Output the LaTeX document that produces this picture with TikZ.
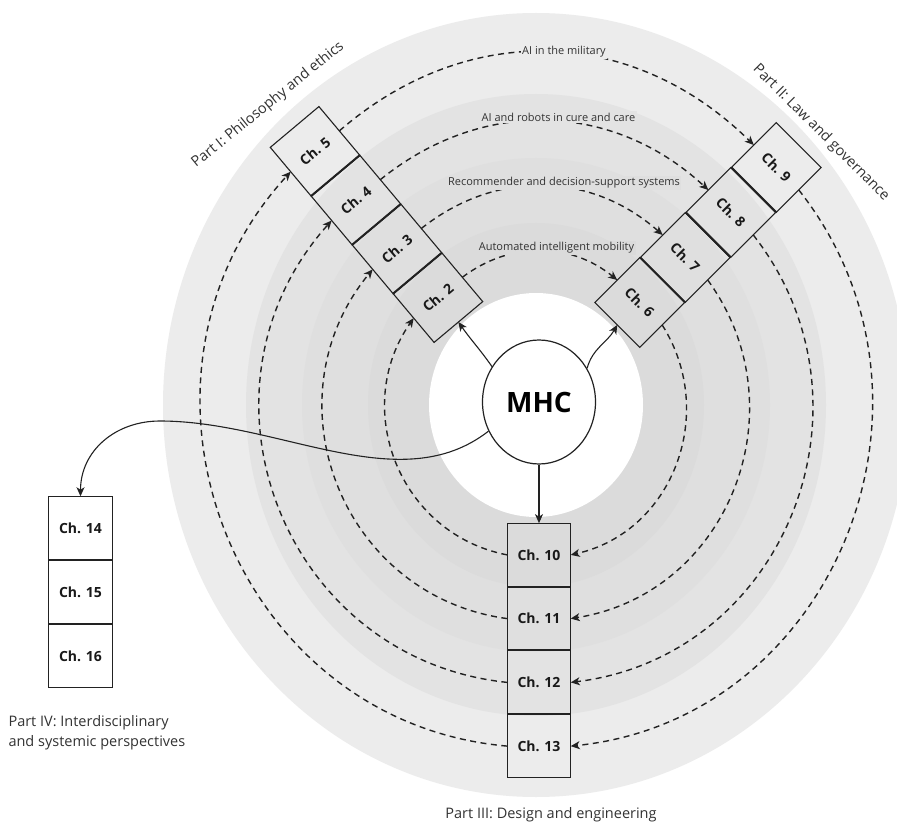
\documentclass[tikz,border=0pt]{standalone}
\usepackage{fontspec}
\setmainfont{Open Sans}
\usetikzlibrary{arrows.meta,shapes.geometric,calc}
\definecolor{bandA}{RGB}{236,236,236}
\definecolor{bandB}{RGB}{227,227,227}
\definecolor{bandC}{RGB}{223,223,223}
\definecolor{bandD}{RGB}{219,219,219}
\definecolor{ink}{RGB}{34,34,34}
\definecolor{txt}{RGB}{51,51,51}
\begin{document}
\begin{tikzpicture}[x=1pt,y=-1pt,
  chbox/.style={draw=ink, line width=1.1pt, minimum width=63.5pt, minimum height=63.5pt,
    inner sep=0pt, outer sep=0pt, font=\fontsize{14}{16}\selectfont\bfseries, text=black!90},
  divider/.style={draw=ink, line width=2pt},
  cycarrow/.style={draw=ink, line width=1.4pt, dash pattern=on 6pt off 4.5pt,
    -{Stealth[length=9pt,width=8pt,inset=2.5pt]}},
  cyclabel/.style={inner sep=1.5pt, font=\fontsize{11}{13}\selectfont, text=txt},
  partlab/.style={font=\fontsize{14.5}{20}\selectfont, text=txt},
  mharrow/.style={draw=ink, line width=1.1pt, -{Stealth[length=9pt,width=8pt,inset=2.5pt]}}]
\useasboundingbox (0,0) rectangle (897,826);
\clip (0,0) rectangle (897,826);
\fill[white] (0,0) rectangle (897,826);
% rings
\coordinate (ctr) at (536,405);
\fill[bandA] (ctr) ellipse [x radius=373pt, y radius=392pt];
\fill[bandB] (ctr) ellipse [x radius=290pt, y radius=311pt];
\fill[bandC] (ctr) ellipse [x radius=234pt, y radius=247pt];
\fill[bandD] (ctr) ellipse [x radius=168pt, y radius=182pt];
\fill[white] (ctr) ellipse [x radius=107pt, y radius=112pt];

% Part I strip
\node[chbox, rotate=40] (ch5) at (315,151.3) {Ch. 5};
\node[chbox, rotate=40] (ch4) at (356,200.1) {Ch. 4};
\node[chbox, rotate=40] (ch3) at (397,248.9) {Ch. 3};
\node[chbox, rotate=40] (ch2) at (438,297.7) {Ch. 2};
% Part II strip
\node[chbox, rotate=-45] (ch6) at (639.7,302.5) {Ch. 6};
\node[chbox, rotate=-45] (ch7) at (685.2,257.5) {Ch. 7};
\node[chbox, rotate=-45] (ch8) at (730.8,212.5) {Ch. 8};
\node[chbox, rotate=-45] (ch9) at (776.3,167.5) {Ch. 9};
% Part III strip
\node[chbox] (ch10) at (539,554.9) {Ch. 10};
\node[chbox] (ch11) at (539,618.6) {Ch. 11};
\node[chbox] (ch12) at (539,682.4) {Ch. 12};
\node[chbox] (ch13) at (539,746.1) {Ch. 13};
% Part IV strip
\node[chbox, fill=white] (ch14) at (80.5,528) {Ch. 14};
\node[chbox, fill=white] (ch15) at (80.5,592) {Ch. 15};
\node[chbox, fill=white] (ch16) at (80.5,656) {Ch. 16};

% dividers
\draw[divider] (ch5.south west) -- (ch5.south east);
\draw[divider] (ch4.south west) -- (ch4.south east);
\draw[divider] (ch3.south west) -- (ch3.south east);
\draw[divider] (ch9.south west) -- (ch9.south east);
\draw[divider] (ch8.south west) -- (ch8.south east);
\draw[divider] (ch7.south west) -- (ch7.south east);
\draw[divider] (ch10.south west) -- (ch10.south east);
\draw[divider] (ch11.south west) -- (ch11.south east);
\draw[divider] (ch12.south west) -- (ch12.south east);
\draw[divider] (ch14.south west) -- (ch14.south east);
\draw[divider] (ch15.south west) -- (ch15.south east);

% loop 1 (outer)
\draw[cycarrow] (ch5.east) .. controls +(128,-111) and +(-121,-119) .. (ch9.west);
\draw[cycarrow] (ch9.east) .. controls +(165.8,209.8) and +(263.6,-26.8) .. (ch13.east);
\draw[cycarrow] (ch13.west) .. controls +(-277,-24) and +(-189,206.5) .. (ch5.west);
% loop 2
\draw[cycarrow] (ch4.east) .. controls +(101,-82) and +(-96,-89) .. (ch8.west);
\draw[cycarrow] (ch8.east) .. controls +(132.7,169.5) and +(213.8,-26.1) .. (ch12.east);
\draw[cycarrow] (ch12.west) .. controls +(-225.2,-23.5) and +(-151,168.7) .. (ch4.west);
% loop 3
\draw[cycarrow] (ch3.east) .. controls +(74.6,-59.2) and +(-71.7,-63.4) .. (ch7.west);
\draw[cycarrow] (ch7.east) .. controls +(94.1,129.2) and +(157.8,-25) .. (ch11.east);
\draw[cycarrow] (ch11.west) .. controls +(-166.4,-22.5) and +(-106.6,129.7) .. (ch3.west);
% loop 4 (inner)
\draw[cycarrow] (ch2.east) .. controls +(48.1,-36.2) and +(-46.9,-38.1) .. (ch6.west);
\draw[cycarrow] (ch6.east) .. controls +(56,88.3) and +(102,-23) .. (ch10.east);
\draw[cycarrow] (ch10.west) .. controls +(-108,-20.8) and +(-63,90.1) .. (ch2.west);

% loop labels
\node[cyclabel, fill=bandA] (l1) at (564,52) {AI in the military};
\node[cyclabel, fill=bandB] (l2) at (558.5,117) {AI and robots in cure and care};
\node[cyclabel, fill=bandC] (l3) at (564,183) {Recommender and decision-support systems};
\node[cyclabel, fill=bandD] (l4) at (556.5,248) {Automated intelligent mobility};

% MHC
\node[ellipse, draw=ink, line width=1.2pt, fill=white, minimum width=113pt, minimum height=124pt,
  inner sep=0pt, font=\fontsize{28}{30}\selectfont\bfseries] (mhc) at (539,402) {MHC};
\draw[mharrow] (mhc.143) to[out=125,in=-55] (ch2.south);
\draw[mharrow] (mhc.35) to[out=75,in=-120] (ch6.south);
\draw[mharrow] (mhc.south) -- (ch10.north);
\coordinate (m14) at (160,421);
\draw[mharrow] (mhc.210) .. controls (400,500) and (280,421) .. (m14)
  .. controls +(-45,0) and +(0,-45) .. (ch14.north);

% part labels
\node[partlab, rotate=39] (p1) at (268,105) {Part I: Philosophy and ethics};
\node[partlab, rotate=-45] (p2) at (821,133) {Part II: Law and governance};
\node[partlab] (p3) at (551,815) {Part III: Design and engineering};
\node[partlab, align=left, anchor=west] (p4) at (5,733) {Part IV: Interdisciplinary\\and systemic perspectives};
\end{tikzpicture}
\end{document}
